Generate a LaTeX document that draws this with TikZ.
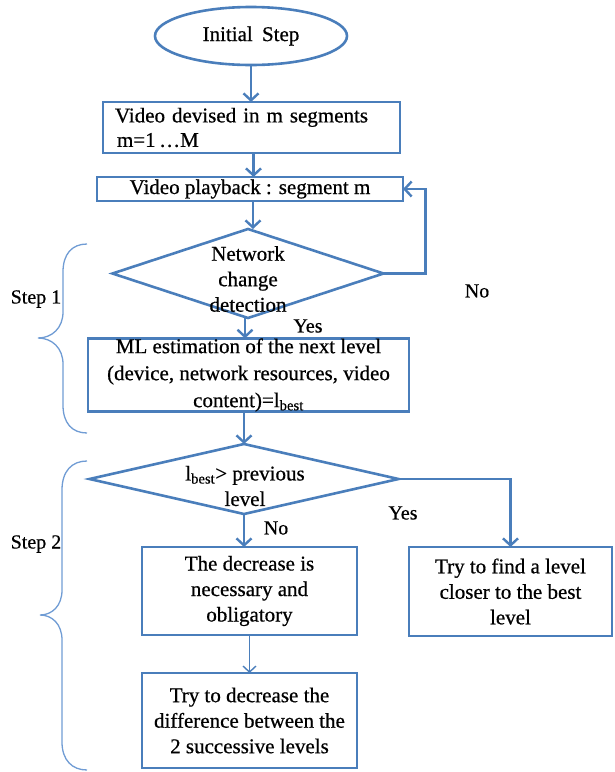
\documentclass[tikz,border=0pt]{standalone}
\usepackage{fontspec}
\setmainfont{Liberation Serif}[FakeBold=0.6]
\usetikzlibrary{shapes.geometric,arrows.meta}
\definecolor{flowblue}{RGB}{74,126,187}
\definecolor{braceblue}{RGB}{112,156,212}

\begin{document}
\begin{tikzpicture}[x=1pt,y=-1pt,
  every node/.style={font=\fontsize{21}{25.5}\selectfont, inner sep=0pt, outer sep=0pt},
  boxnode/.style={draw=flowblue, line width=2.6pt, rectangle, align=center},
  decision/.style={draw=flowblue, line width=2.6pt, diamond},
  startnode/.style={draw=flowblue, line width=2.6pt, ellipse},
  arr/.style={draw=flowblue, line width=2.4pt, -{Straight Barb[length=7pt,width=15pt]}},
  thinarr/.style={draw=flowblue, line width=1.4pt, -{Straight Barb[length=6pt,width=13pt]}},
  lbl/.style={font=\fontsize{20}{24}\selectfont},
  bracepath/.style={draw=braceblue, line width=1.3pt}
]
\useasboundingbox (0,0) rectangle (614,772);

% start / process / decision nodes
\node[startnode, minimum width=192pt, minimum height=58pt] (start) at (251,36) {Initial\hspace{4pt} Step};
\node[boxnode, minimum width=297pt, minimum height=51pt, text width=273pt, inner xsep=12pt, align=left] (b1) at (251.5,127.5)
  {Video devised in m segments\\[-1pt]\hspace{2pt}m=1\,…M};
\node[boxnode, minimum width=306pt, minimum height=24pt] (b2) at (250,189) {Video playback : segment m};
\node[decision, minimum width=271pt, minimum height=89pt] (d1) at (248,273.5) {};
\node[align=center] (d1t) at (248,279) {Network\\change\\detection};
\node[boxnode, minimum width=321pt, minimum height=72pt, font=\fontsize{21}{27}\selectfont] (b3) at (248.5,375)
  {ML estimation of the next level\\(device, network resources, video\\content)=l\textsubscript{best}};
\node[decision, minimum width=309pt, minimum height=70pt] (d2) at (244,479) {};
\node[align=center] (d2t) at (245,486) {l\textsubscript{best}> previous\\level};
\node[boxnode, minimum width=215pt, minimum height=88pt] (b4) at (249.5,591)
  {The decrease is\\necessary and\\obligatory};
\node[boxnode, minimum width=203pt, minimum height=89pt] (b5) at (510.5,591.5)
  {Try to find a level\\closer to the best\\level};
\node[boxnode, minimum width=215pt, minimum height=95pt] (b6) at (249.5,720.5)
  {Try to decrease the\\difference between the\\2 successive levels};

% connectors
\draw[arr] (start.south) -- (start.south |- b1.north);
\draw[arr] ([xshift=2pt]b1.south) -- ([xshift=2pt]b1.south |- b2.north);
\draw[arr] ([xshift=3pt]b2.south) -- ([xshift=3pt]b2.south |- d1.north);
\draw[arr] ([xshift=-3pt]d1.south) -- ([xshift=-3pt]d1.south |- b3.north);
\draw[arr] (d2.north |- b3.south) -- (d2.north);
\draw[arr] (d1.east) -- ++(42,0) |- (b2.east);
\draw[arr] (d2.south) -- (d2.south |- b4.north);
\draw[arr] (d2.east) -| (b5.north);
\draw[thinarr] (b4.south) -- (b6.north);

% branch labels
\node[lbl] (no1) at (477,291) {No};
\node[lbl] (yes1) at (308,326) {Yes};
\node[lbl] (yes2) at (403,513) {Yes};
\node[lbl] (no2) at (276,528) {No};

% phase braces
\draw[bracepath] (87,244) .. controls (72,244) and (63,254) .. (63,272) -- (63,312)
  .. controls (63,328) and (52,338) .. (38,338) .. controls (52,338) and (63,348) .. (63,364)
  -- (63,405) .. controls (63,423) and (72,433) .. (87,433);
\draw[bracepath] (87,461) .. controls (72,461) and (62,471) .. (62,490) -- (62,590)
  .. controls (62,606) and (52,615) .. (40,615) .. controls (52,615) and (62,624) .. (62,640)
  -- (62,742) .. controls (62,760) and (72,770) .. (87,770);
\node[lbl] (step1) at (36,299) {Step 1};
\node[lbl] (step2) at (36,544) {Step 2};
\end{tikzpicture}
\end{document}
